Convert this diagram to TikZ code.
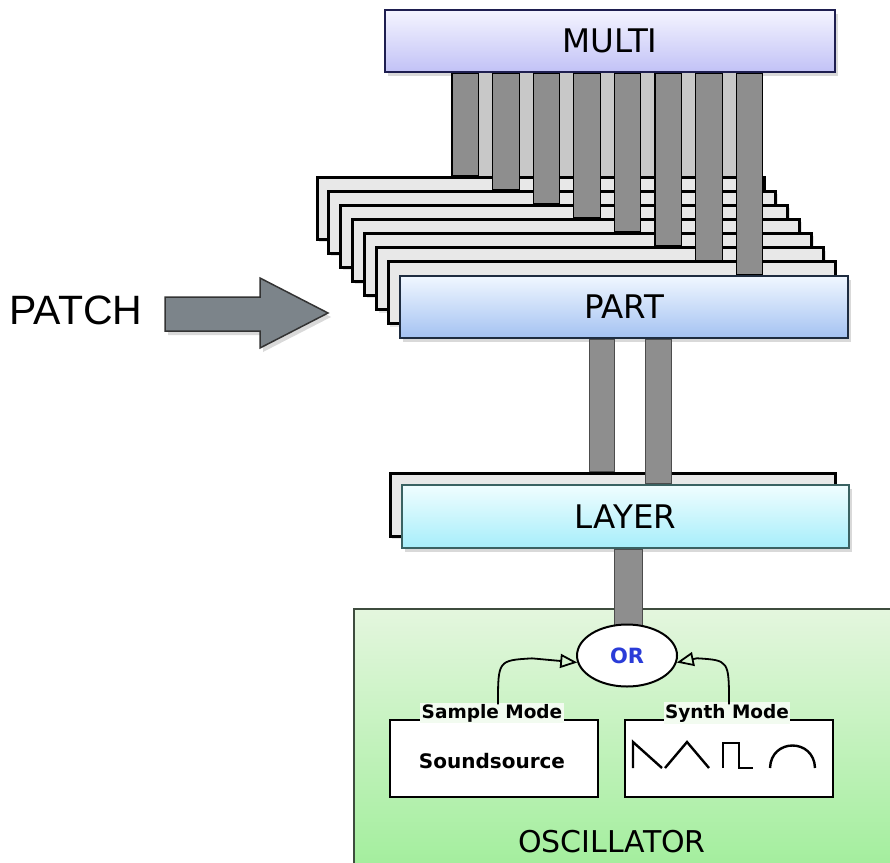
\documentclass[tikz,border=0pt]{standalone}
\usepackage{fontspec}
\setmainfont{DejaVu Sans}
\newfontfamily\arialf{Liberation Sans}
\usetikzlibrary{shadows,shapes.geometric,arrows.meta,calc}
\definecolor{sheetgray}{HTML}{E8E8E8}
\definecolor{barDark}{HTML}{8E8E8E}
\definecolor{barLight}{HTML}{C8C8C8}
\definecolor{multiTop}{HTML}{F4F4FF}
\definecolor{multiBot}{HTML}{C2C2F6}
\definecolor{multiLine}{HTML}{1E1E50}
\definecolor{partTop}{HTML}{F0F7FF}
\definecolor{partBot}{HTML}{A4C2F2}
\definecolor{partLine}{HTML}{1E2C40}
\definecolor{layerTop}{HTML}{F0FDFF}
\definecolor{layerBot}{HTML}{A6EEFA}
\definecolor{layerLine}{HTML}{3A6262}
\definecolor{oscTop}{HTML}{E4F6DE}
\definecolor{oscMid}{HTML}{F6FCF4}
\definecolor{oscBot}{HTML}{A2EE9C}
\definecolor{oscLine}{HTML}{3E4C3E}
\definecolor{orBlue}{HTML}{2A3CD8}
\definecolor{arrowGray}{HTML}{7C848A}
\definecolor{labelBg}{HTML}{F2FBF0}
\begin{document}
\begin{tikzpicture}[x=1pt,y=-1pt,
  bigtext/.style={font=\fontsize{32.5}{32.5}\selectfont},
  sheet/.style={draw=black,line width=3pt,fill=sheetgray,minimum width=447pt,minimum height=62pt,inner sep=0pt,
    drop shadow={shadow xshift=2pt,shadow yshift=-3pt,opacity=0.22}},
  multibox/.style={draw=multiLine,line width=2.6pt,top color=multiTop,bottom color=multiBot,minimum width=450pt,minimum height=62pt,inner sep=0pt,bigtext,
    drop shadow={shadow xshift=3pt,shadow yshift=-4pt,opacity=0.3}},
  partbox/.style={draw=partLine,line width=2.6pt,top color=partTop,bottom color=partBot,minimum width=448pt,minimum height=62pt,inner sep=0pt,bigtext,
    drop shadow={shadow xshift=3pt,shadow yshift=-4pt,opacity=0.3}},
  layerback/.style={draw=black,line width=3pt,fill=sheetgray,minimum width=445pt,minimum height=63pt,inner sep=0pt,
    drop shadow={shadow xshift=2pt,shadow yshift=-3pt,opacity=0.22}},
  layerbox/.style={draw=layerLine,line width=2.6pt,top color=layerTop,bottom color=layerBot,minimum width=447pt,minimum height=63pt,inner sep=0pt,bigtext,
    drop shadow={shadow xshift=3pt,shadow yshift=-4pt,opacity=0.3}},
  darkbar/.style={fill=barDark,draw=black,line width=1.1pt},
  lightbar/.style={fill=barLight},
  pipe/.style={fill=barDark,draw=black!70,line width=0.8pt},
  oscbox/.style={draw=oscLine,line width=1.6pt,shading=axis,top color=oscTop,middle color=oscMid,bottom color=oscBot,minimum width=545pt,minimum height=262pt,inner sep=0pt},
  modebox/.style={draw=black,line width=2.3pt,fill=white,minimum width=208pt,minimum height=77pt,inner sep=0pt},
  modelabel/.style={fill=labelBg,inner sep=1.5pt,font=\bfseries\fontsize{18.5}{18.5}\selectfont},
  orstyle/.style={ellipse,draw=black,line width=2pt,fill=white,minimum width=100pt,minimum height=62pt,inner sep=0pt,
    font=\bfseries\fontsize{21}{21}\selectfont,text=orBlue},
  modearrow/.style={draw=black,line width=1.8pt,-{Triangle[open,length=17pt,width=14pt]}},
  wave/.style={draw=black,line width=2.4pt,line join=miter},
  patcharrow/.style={fill=arrowGray,draw=black!80,line width=1.5pt,line join=miter,
    drop shadow={shadow xshift=3pt,shadow yshift=-4pt,opacity=0.3}}
]
\useasboundingbox (0,0) rectangle (890,862);

% oscillator region
\node[oscbox] (osc) at (626.5,740) {};
\node[font=\fontsize{30}{30}\selectfont] (osclabel) at (612,842) {OSCILLATOR};

% MULTI
\node[multibox] (multi) at (610,41) {MULTI};

% stacked part sheets
\foreach \k in {0,...,6}{
  \node[sheet] (sh\k) at ({317+11.9*\k+223.5},{177+14.1*\k+31}) {};
}
\node[partbox,alias=sh7] (part) at (624,307) {PART};

% bars from MULTI to the sheets
\foreach \k in {0,...,7}{
  \coordinate (bl\k) at ({452+40.6*\k},0);
  \coordinate (br\k) at ({452+40.6*\k+26.5},0);
}
\foreach \k [evaluate=\k as \n using int(\k+1)] in {0,...,6}{
  \fill[lightbar] (br\k |- multi.south) rectangle (bl\n |- sh0.north);
}
\foreach \k in {0,...,7}{
  \draw[darkbar] (bl\k |- multi.south) rectangle (br\k |- sh\k.north);
}

% LAYER
\node[layerback] (layb) at (612.5,504.5) {};
\node[layerbox] (layer) at (625.5,516.5) {LAYER};
\coordinate (pa1) at (589,0);
\coordinate (pa2) at (614.5,0);
\coordinate (pb1) at (645,0);
\coordinate (pb2) at (671,0);
\draw[pipe] (pa1 |- part.south) rectangle (pa2 |- layb.north);
\draw[pipe] (pb1 |- part.south) rectangle (pb2 |- layer.north);

% OR
\coordinate (orc) at (627,655.5);
\coordinate (pc1) at (614,0);
\coordinate (pc2) at (642,0);
\draw[pipe] (pc1 |- layer.south) rectangle (pc2 |- orc);
\node[orstyle] (or) at (orc) {OR};

% mode boxes
\node[modebox] (sample) at (494,758.5) {};
\node[modebox] (synth) at (729,758.5) {};
\node[modelabel] (samplelab) at (492,713) {Sample Mode};
\node[modelabel] (synthlab) at (727,713) {Synth Mode};
\node[font=\bfseries\fontsize{20}{20}\selectfont] (sound) at (492,761) {Soundsource};

\draw[modearrow] ($(samplelab.north)+(6,2)$) .. controls ($(samplelab.north)+(6,-42)$) .. ($(samplelab.north)+(40,-44)$) -- (or.188);
\draw[modearrow] ($(synthlab.north)+(2,2)$) .. controls ($(synthlab.north)+(2,-42)$) .. ($(synthlab.north)+(-30,-44)$) -- (or.352);

% waveforms
\draw[wave] (633,768) -- (633,742) -- (662,768);
\draw[wave] (665,768) -- (687,742) -- (709,768);
\draw[wave] (723,768) -- (723,743) -- (739,743) -- (739,768) -- (753,768);
\draw[wave] (770,768) .. controls (771,738) and (814,738) .. (815,768);

% PATCH
\node[font=\arialf\fontsize{41}{41}\selectfont,inner sep=0pt] (patch) at (76,310) {PATCH};
\draw[patcharrow] (165,297) -- (260,297) -- (260,278) -- (328,313) -- (260,348) -- (260,331) -- (165,331) -- cycle;
\end{tikzpicture}
\end{document}
